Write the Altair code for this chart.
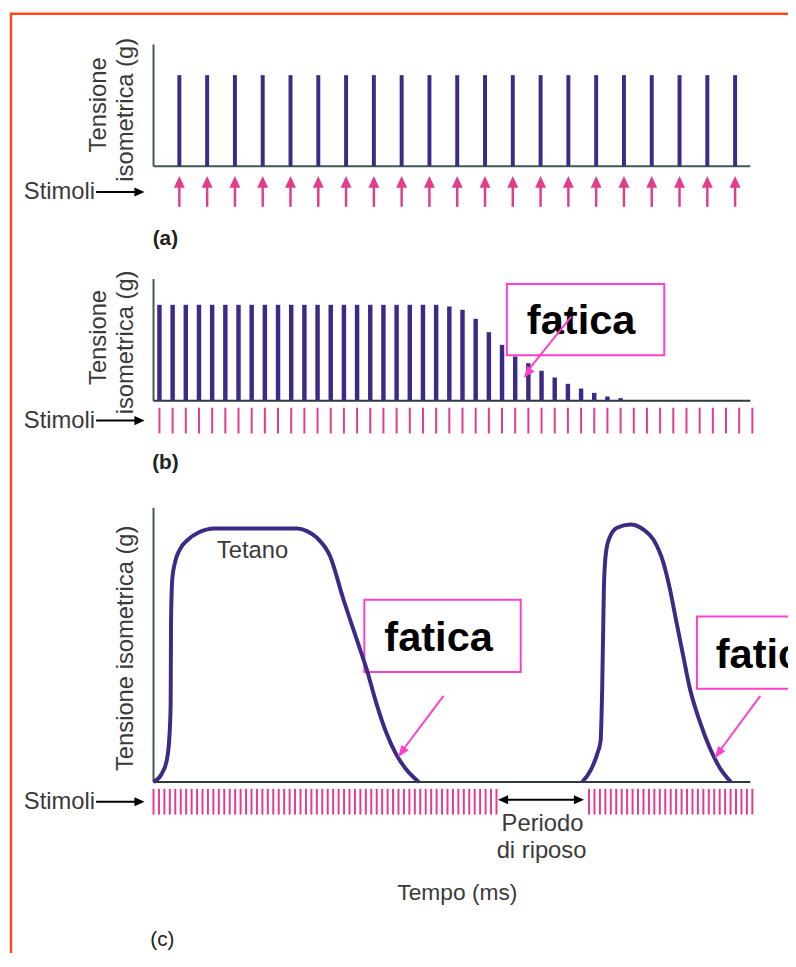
import altair as alt
import pandas as pd

# ---------------- data ----------------
# panel (a): single twitches, one per stimulus
stim_a = list(range(1, 22))                 # stimulus number
tension_a = [1.0] * 21                       # relative tension

# panel (b): fatigue with repeated stimuli
stim_b = list(range(1, 47))
tension_b = [1.0] * 22 + [0.983, 0.948, 0.854, 0.715, 0.583, 0.462, 0.392,
                          0.313, 0.243, 0.177, 0.128, 0.083, 0.045, 0.028]
bar_b = list(range(1, len(tension_b) + 1))

# panel (c): tetanus, fatigue, rest, second tetanus
stim_c = list(range(0, 64)) + list(range(80, 111))
t1 = [0, 1.51, 2.42, 2.91, 3.15, 3.22, 3.45, 3.95, 4.85, 6.36, 8.18, 11.2, 26.4,
      28.18, 30.0, 32.42, 34.85, 37.27, 39.09, 40.91, 42.73, 44.55, 46.36, 48.73]
T1 = [0, 0.032, 0.084, 0.175, 0.305, 0.629, 0.798, 0.863, 0.914, 0.953, 0.979, 0.996, 0.996,
      0.986, 0.960, 0.888, 0.720, 0.564, 0.447, 0.311, 0.195, 0.109, 0.051, 0]
t2 = [78.78, 80.31, 81.51, 82.13, 82.42, 82.73, 83.04, 83.64, 85.15, 87.58, 90.0, 91.82,
      93.64, 94.85, 96.05, 97.27, 98.49, 100.31, 102.13, 103.95, 106.05]
T2 = [0, 0.046, 0.110, 0.162, 0.370, 0.759, 0.888, 0.953, 0.999, 1.012, 0.992, 0.953,
      0.863, 0.759, 0.629, 0.499, 0.370, 0.240, 0.136, 0.058, 0]

labels = {
    "stim": "Stimoli",
    "ten": "Tensione",
    "iso": "isometrica (g)",
    "teniso": "Tensione isometrica (g)",
    "fat": "fatica",
    "tet": "Tetano",
    "per1": "Periodo",
    "per2": "di riposo",
    "tempo": "Tempo (ms)",
    "a": "(a)", "b": "(b)", "c": "(c)",
}

# ---------------- styles ----------------
FONT = "Liberation Sans"
PURPLE = "#3d2a86"
PINK = "#e23c8c"
MAGENTA = "#ff40cc"
FRAME = "#ff4a18"
AXIS = "#3e5a56"
TXT = "#3a3a3a"
HEAD = "M0,0L0.6,1.6L-0.6,1.6Z"
BHEAD = "M0,0L0.8,1.8L-0.8,1.8Z"

one = pd.DataFrame({"k": [0]})

xa = alt.Scale(domain=[0.07, 21.55], range=[147, 750])
ya = alt.Scale(domain=[0, 1], range=[155, 63])
xb = alt.Scale(domain=[0.549, 45.85], range=[147, 750])
yb = alt.Scale(domain=[0, 1], range=[392, 295])
xc = alt.Scale(domain=[0, 109.64], range=[147, 750])
yc = alt.Scale(domain=[0, 1], range=[777, 520])


def rule(x, x2, y, y2, color, w):
    return alt.Chart(one).mark_rule(color=color, strokeWidth=w).encode(
        x=alt.value(x), x2=alt.value(x2), y=alt.value(y), y2=alt.value(y2))


def head(x, y, angle, size, color, path=HEAD):
    return alt.Chart(one).mark_point(shape=path, filled=True, color=color, opacity=1,
                                     size=size, angle=angle, strokeWidth=0).encode(
        x=alt.value(x), y=alt.value(y))


def txt(label, x, y, size=24, weight="normal", angle=0, align="center",
        baseline="middle", color=TXT):
    return alt.Chart(one).mark_text(fontSize=size, fontWeight=weight, angle=angle,
                                    align=align, baseline=baseline, color=color,
                                    font=FONT).encode(
        x=alt.value(x), y=alt.value(y), text=alt.value(label))


def box(x, x2, y, y2):
    return alt.Chart(one).mark_rect(fill="white", stroke=MAGENTA, strokeWidth=2).encode(
        x=alt.value(x), x2=alt.value(x2), y=alt.value(y), y2=alt.value(y2))


layers = []
# frame
layers.append(alt.Chart(one).mark_rect(fill=None, stroke=FRAME, strokeWidth=2.5).encode(
    x=alt.value(3), x2=alt.value(900), y=alt.value(1), y2=alt.value(1200)))

# ---------- panel (a) ----------
da = pd.DataFrame({"t": stim_a, "T": tension_a})
layers += [
    rule(147, 147, 32, 155, AXIS, 2),
    rule(147, 750, 155, 155, AXIS, 2),
    alt.Chart(da).mark_rule(color=PURPLE, strokeWidth=4).encode(
        x=alt.X("t:Q", scale=xa, axis=None), y=alt.Y("T:Q", scale=ya, axis=None),
        y2=alt.datum(0)),
    alt.Chart(da).mark_rule(color=PINK, strokeWidth=2.5).encode(
        x=alt.X("t:Q", scale=xa, axis=None), y=alt.value(176), y2=alt.value(196)),
    alt.Chart(da).mark_point(shape="M0,0L0.8,1.7L-0.8,1.7Z", filled=True, color=PINK,
                             opacity=1, size=190, strokeWidth=0).encode(
        x=alt.X("t:Q", scale=xa, axis=None), y=alt.value(165)),
]

# ---------- panel (b) ----------
db = pd.DataFrame({"t": bar_b, "T": tension_b})
sb = pd.DataFrame({"t": stim_b})
layers += [
    rule(147, 147, 269, 392, AXIS, 2),
    rule(147, 750, 392, 392, "#2f3b3a", 2),
    alt.Chart(db).mark_rule(color=PURPLE, strokeWidth=4.5).encode(
        x=alt.X("t:Q", scale=xb, axis=None), y=alt.Y("T:Q", scale=yb, axis=None),
        y2=alt.datum(0)),
    alt.Chart(sb).mark_rule(color=PINK, strokeWidth=2).encode(
        x=alt.X("t:Q", scale=xb, axis=None), y=alt.value(399), y2=alt.value(425)),
]

# ---------- panel (c) axes and stimuli ----------
dc = pd.DataFrame({"t": t1 + t2, "T": T1 + T2,
                   "ep": ["1"] * len(t1) + ["2"] * len(t2)})
sc = pd.DataFrame({"t": stim_c})
layers += [
    rule(147, 147, 500, 777, AXIS, 2),
    rule(147, 750, 777, 777, "#2f3b3a", 2),
    alt.Chart(sc).mark_rule(color=PINK, strokeWidth=2).encode(
        x=alt.X("t:Q", scale=xc, axis=None), y=alt.value(784), y2=alt.value(810)),
]

# ---------- stimuli arrows & labels ----------
for yy in (181, 412, 797):
    layers += [
        txt(labels["stim"], 88, yy, align="right"),
        rule(89, 130, yy, yy, "black", 2),
        head(138, yy, 90, 130, "black", BHEAD),
    ]

# axis titles and labels
layers += [
    txt(labels["ten"], 92, 93, angle=270),
    txt(labels["iso"], 119, 98, angle=270),
    txt(labels["ten"], 92, 328, angle=270),
    txt(labels["iso"], 119, 333, angle=270),
    txt(labels["teniso"], 119, 642, angle=270),
    txt(labels["a"], 159, 229, size=21, weight="bold", color="#222"),
    txt(labels["b"], 159, 455, size=21, weight="bold", color="#222"),
    txt(labels["c"], 156, 937, size=21, weight="normal", color="#222"),
    txt(labels["tet"], 247, 544),
    txt(labels["per1"], 540, 820),
    txt(labels["per2"], 539, 847),
    txt(labels["tempo"], 454, 889, size=23),
]

# rest period double arrow
layers += [
    rule(500, 578, 795, 795, "black", 2),
    head(495, 795, 270, 130, "black", BHEAD),
    head(582, 795, 90, 130, "black", BHEAD),
]

# fatica boxes
layers += [
    box(504, 663, 274, 346),
    txt(labels["fat"], 579, 324, size=42, weight="bold", baseline="alphabetic", color="black"),
    box(360, 518, 593, 666),
    txt(labels["fat"], 435, 645, size=42, weight="bold", baseline="alphabetic", color="black"),
    box(696, 900, 610, 683),
    txt(labels["fat"], 715, 662, size=42, weight="bold", baseline="alphabetic",
        align="left", color="black"),
]

# tension curves of panel (c), drawn above the boxes
layers.append(
    alt.Chart(dc).mark_line(color=PURPLE, strokeWidth=4, interpolate="monotone").encode(
        x=alt.X("t:Q", scale=xc, axis=None), y=alt.Y("T:Q", scale=yc, axis=None),
        detail="ep:N"))

# fatica arrows
layers += [
    rule(569, 524, 307, 363, MAGENTA, 2),
    head(521, 369, 217.7, 225, MAGENTA),
    rule(440, 398, 690, 746, MAGENTA, 2),
    head(394, 752, 216.6, 225, MAGENTA),
    rule(760, 718, 690, 747, MAGENTA, 2),
    head(714, 753, 216, 225, MAGENTA),
]

chart = alt.layer(*layers).resolve_scale(x="independent", y="independent").properties(
    width=788, height=945, padding=0,
    autosize=alt.AutoSizeParams(type="none"), background="white",
).configure_view(strokeWidth=0)

chart.save("out.html", embed_options={"renderer": "svg", "actions": False})
